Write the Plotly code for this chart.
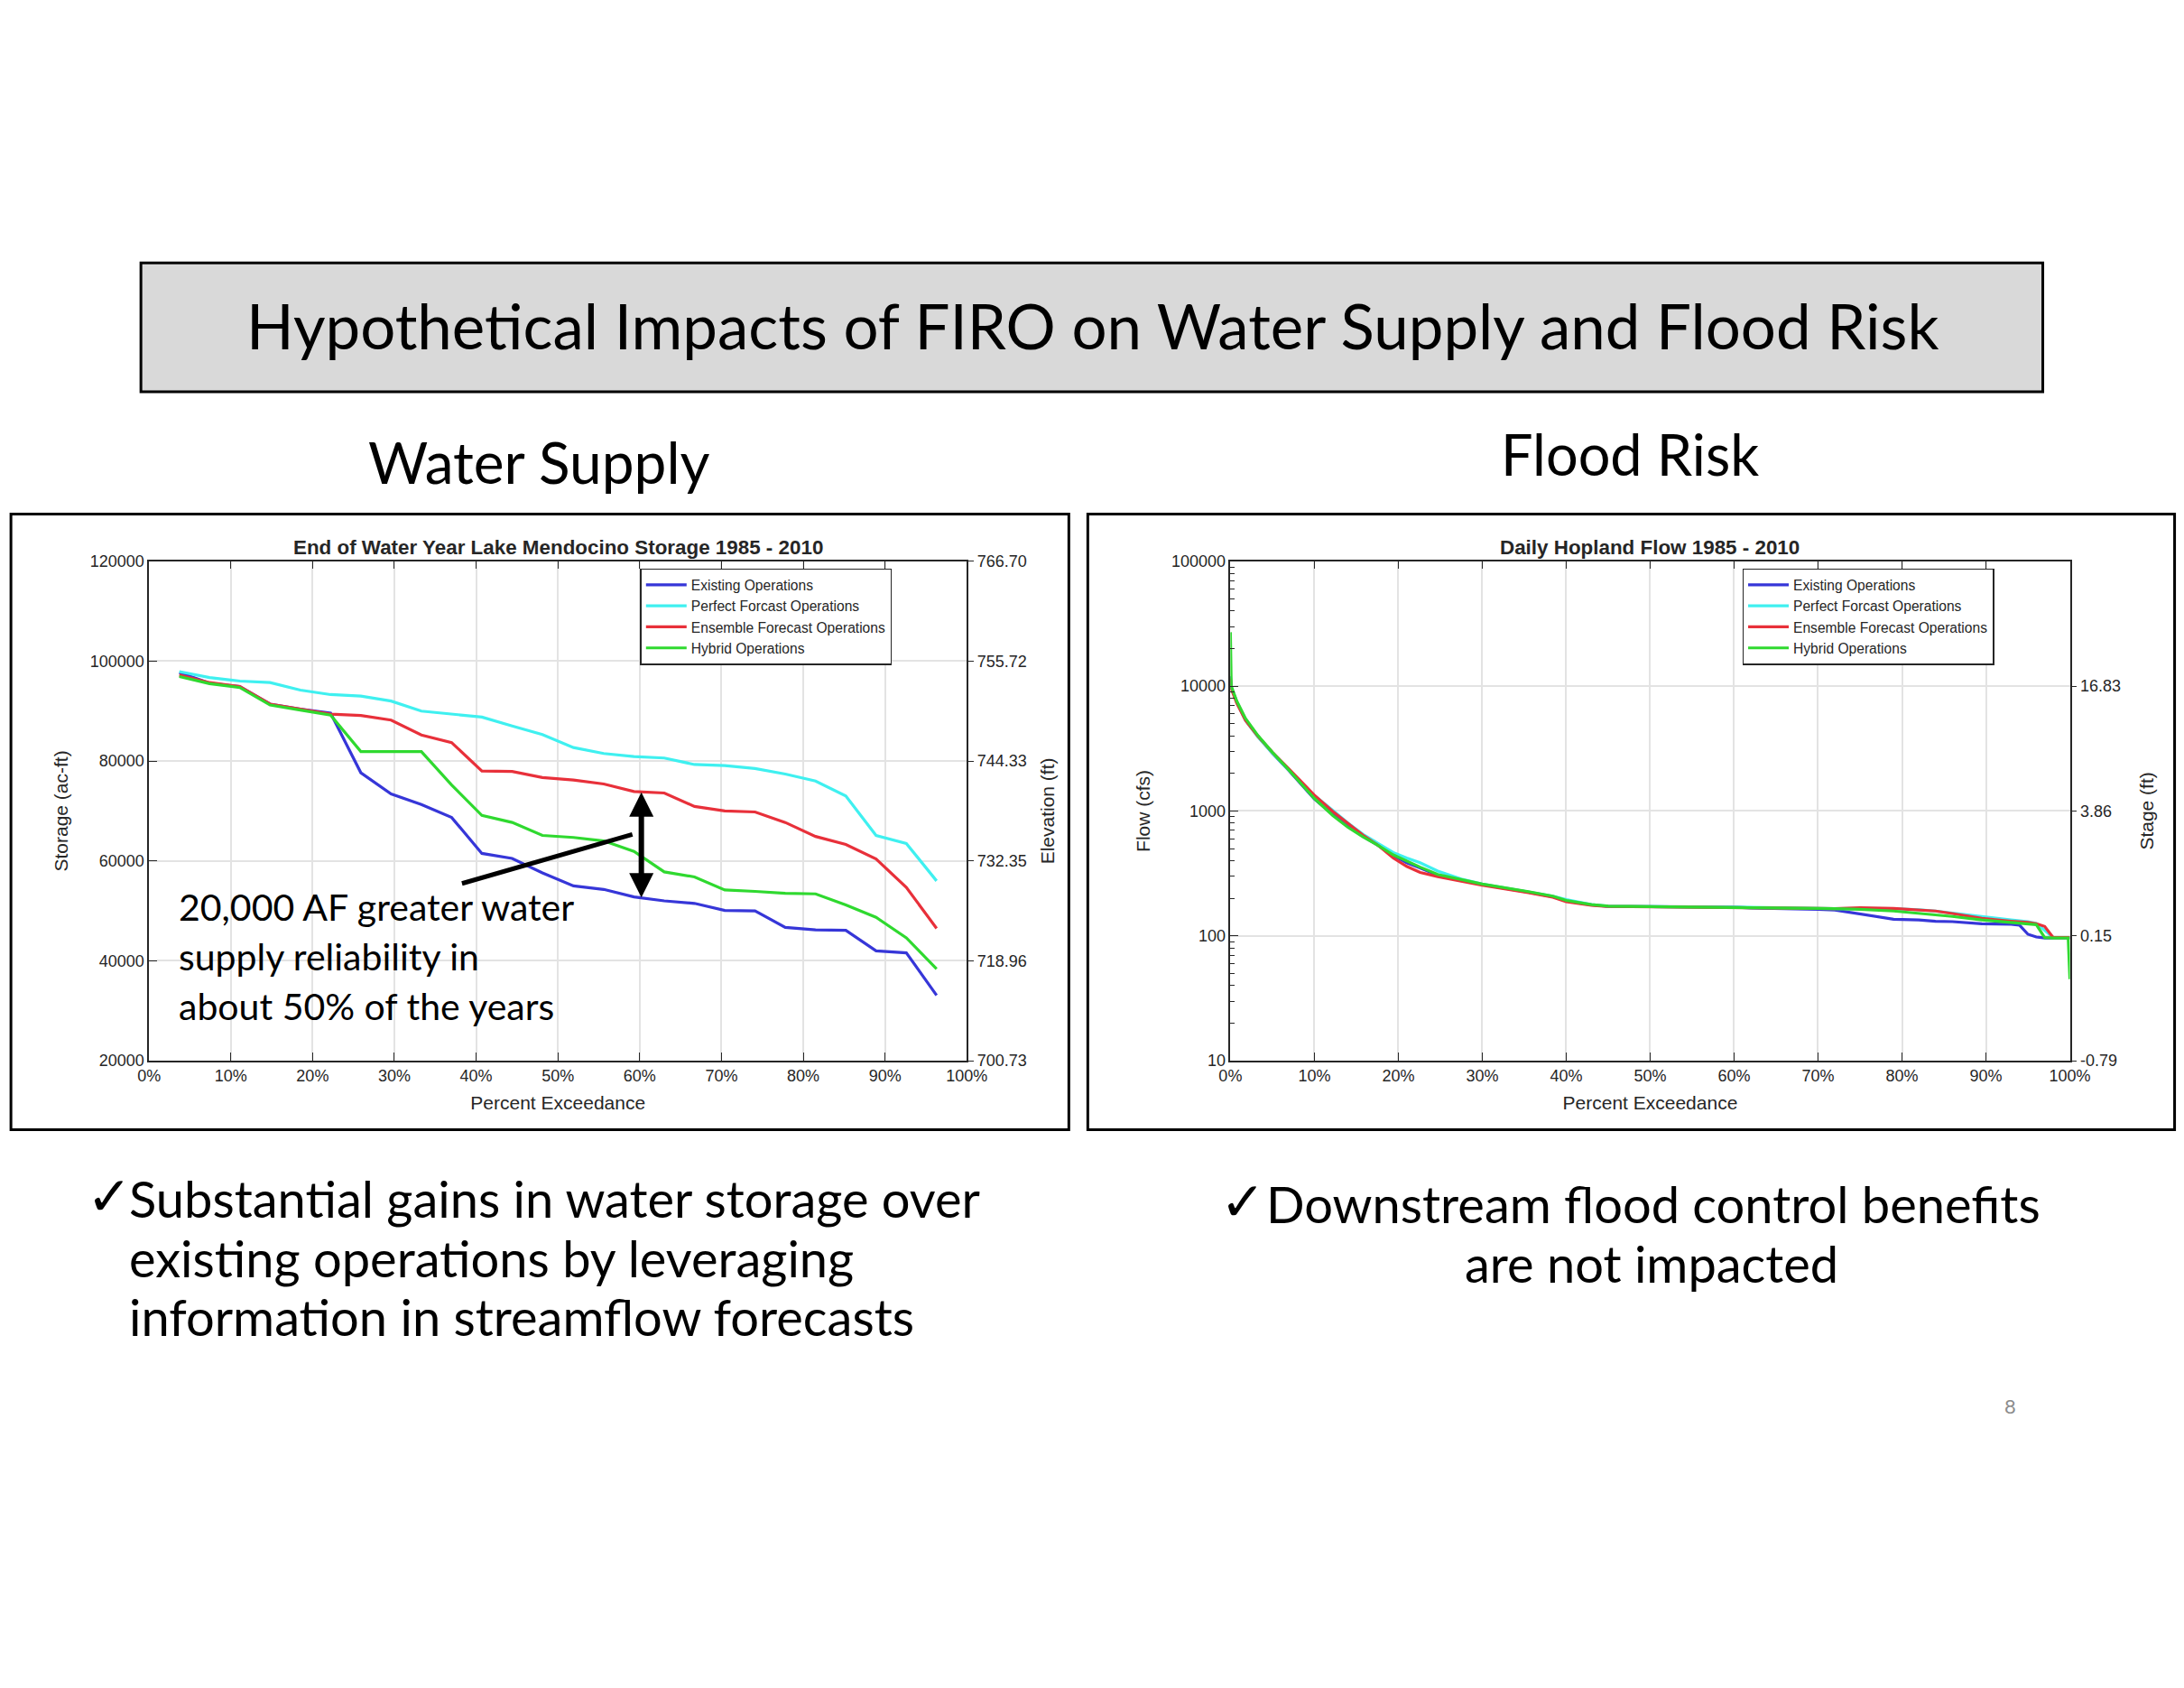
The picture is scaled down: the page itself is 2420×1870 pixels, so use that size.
import plotly.graph_objects as go

# The rendered page comes out slightly shrunk and offset, so they are mapped before use.
SHOT_SCALE, SHOT_OFF, BODY = 0.985, 13, 8
W, H = 2430, 1862

# ---- data: End of Water Year Lake Mendocino Storage 1985 - 2010 ----
storage_pct = [3.7, 7.4, 11.1, 14.8, 18.5, 22.2, 25.9, 29.6, 33.3, 37.0, 40.7, 44.4, 48.1,
               51.9, 55.6, 59.3, 63.0, 66.7, 70.4, 74.1, 77.8, 81.5, 85.2, 88.9, 92.6, 96.3]
storage_existing = [97700, 95600, 94900, 91400, 90400, 89600, 77650, 73400, 71300, 68700, 61500, 60500, 57600,
                    55000, 54300, 52800, 52000, 51500, 50100, 50000, 46700, 46200, 46100, 42000, 41600, 33100]
storage_perfect = [97900, 96700, 96000, 95700, 94200, 93300, 93000, 92000, 90000, 89400, 88800, 87000, 85300,
                   82700, 81500, 80900, 80600, 79300, 79100, 78500, 77400, 76000, 73000, 65100, 63500, 56000]
storage_ensemble = [97200, 95700, 94900, 91400, 90400, 89400, 89100, 88200, 85200, 83700, 78000, 77900, 76700,
                    76200, 75400, 73900, 73600, 70900, 70000, 69800, 67700, 64900, 63300, 60400, 54700, 46500]
storage_hybrid = [96900, 95500, 94700, 91200, 90200, 89200, 81900, 81900, 81900, 75200, 69100, 67700, 65100,
                  64700, 64000, 61900, 57800, 56800, 54200, 53900, 53500, 53400, 51200, 48700, 44600, 38400]
storage_ticks = [20000, 40000, 60000, 80000, 100000, 120000]
elevation_labels = ["700.73", "718.96", "732.35", "744.33", "755.72", "766.70"]

# ---- data: Daily Hopland Flow 1985 - 2010 ----
flow_pct = [0, 0.1, 0.75, 1.8, 3.3, 5, 6.9, 8.6, 10, 12.2, 14, 15.8, 17.6, 19.4, 21, 22.6, 24.7, 27.5, 30,
            35.5, 38.4, 40, 43, 45, 50, 55, 60, 62, 65, 70, 72, 75, 79, 82, 84, 86, 89.5, 93, 94, 95, 96,
            97, 98, 99.3, 99.8, 100]
flow_existing = [12000, 9800, 7500, 5400, 3950, 2900, 2130, 1600, 1250, 940, 760, 625, 530, 440, 385, 350, 305,
                 280, 258, 224, 206, 190, 177, 172, 171, 170, 170, 167, 166, 163, 161, 150, 136, 134, 131, 130,
                 125, 124, 122, 103, 98, 96, 96, 97, 97, 96]
flow_perfect = [11000, 9800, 7400, 5300, 3900, 2900, 2150, 1650, 1330, 1010, 800, 650, 550, 465, 420, 385, 330,
                285, 260, 226, 208, 195, 178, 173, 171, 170, 170, 169, 168, 166, 165, 166, 165, 162, 158, 152,
                142, 134, 132, 130, 126, 110, 97, 97, 97, 97]
flow_ensemble = [11500, 9500, 7300, 5300, 3950, 2950, 2200, 1680, 1340, 990, 790, 640, 530, 420, 360, 322, 298,
                 275, 254, 222, 204, 188, 176, 172, 171, 170, 170, 169, 168, 166, 165, 168, 166, 162, 158, 151,
                 138, 131, 130, 128, 125, 119, 97, 97, 97, 97]
flow_hybrid = [27000, 10000, 7600, 5500, 4000, 2950, 2150, 1600, 1260, 920, 740, 620, 530, 445, 395, 355, 310,
               283, 260, 226, 208, 192, 178, 173, 172, 171, 170, 169, 168, 166, 165, 163, 158, 152, 148, 143,
               134, 128, 127, 125, 123, 97, 96, 96, 96, 45]
flow_ticks = [10, 100, 1000, 10000, 100000]
flow_labels = ["10", "100", "1000", "10000", "100000"]
stage_ticks = [10, 100, 1000, 10000]
stage_labels = ["-0.79", "0.15", "3.86", "16.83"]

series_names = ["Existing Operations", "Perfect Forcast Operations",
                "Ensemble Forecast Operations", "Hybrid Operations"]
colors = ["#3636d8", "#3ff0f0", "#e8303a", "#2fd92f"]

SLIDE_FONT = "Lato, Open Sans, sans-serif"
AX_FONT = "Liberation Sans Narrow, Liberation Sans, Arial, sans-serif"
AX_COL = "#262626"


def px(x):
    return ((x - SHOT_OFF) / SHOT_SCALE - BODY) / W


def py(y):
    return 1 - ((y - SHOT_OFF) / SHOT_SCALE - BODY) / H


fig = go.Figure()

for name, vals, col in zip(series_names,
                           [storage_existing, storage_perfect, storage_ensemble, storage_hybrid], colors):
    fig.add_trace(go.Scatter(x=storage_pct, y=vals, name=name, mode="lines",
                             line=dict(color=col, width=3.2), xaxis="x", yaxis="y", legend="legend"))

for name, vals, col in zip(series_names,
                           [flow_existing, flow_perfect, flow_ensemble, flow_hybrid], colors):
    fig.add_trace(go.Scatter(x=flow_pct, y=vals, name=name, mode="lines",
                             line=dict(color=col, width=3.2), xaxis="x3", yaxis="y3", legend="legend2"))

# invisible copies so the right-hand (elevation / stage) axes get drawn
fig.add_trace(go.Scatter(x=storage_pct, y=storage_existing, mode="lines", opacity=0, showlegend=False,
                         hoverinfo="skip", xaxis="x", yaxis="y2"))
fig.add_trace(go.Scatter(x=flow_pct, y=flow_existing, mode="lines", opacity=0, showlegend=False,
                         hoverinfo="skip", xaxis="x3", yaxis="y4"))

tickfont = dict(family=AX_FONT, size=18, color=AX_COL)
titlefont = dict(family=AX_FONT, size=21, color=AX_COL)
xcommon = dict(range=[0, 100], dtick=10, ticksuffix="%", showgrid=True, gridcolor="#e3e3e3", gridwidth=1.5,
               showline=True, linecolor=AX_COL, linewidth=1.5, mirror="ticks", ticks="inside", ticklen=9,
               tickcolor=AX_COL, tickfont=tickfont, zeroline=False,
               title=dict(text="Percent Exceedance", font=titlefont, standoff=13))
ydomain = [py(1173), py(622)]

minor_vals = [m * 10 ** e for e in range(1, 5) for m in range(2, 10)]

legend_style = dict(yanchor="top", xanchor="right", bgcolor="white", bordercolor=AX_COL, borderwidth=1.5,
                    font=dict(family=AX_FONT, size=15.6, color=AX_COL), tracegroupgap=0, itemwidth=45)

fig.update_layout(
    width=W, height=H, margin=dict(l=0, r=0, t=0, b=0),
    paper_bgcolor="white", plot_bgcolor="white",
    xaxis=dict(domain=[px(165), px(1071)], anchor="y", **xcommon),
    yaxis=dict(domain=ydomain, anchor="x", range=[20000, 120000], tickvals=storage_ticks,
               tickformat=".0f", showgrid=True, gridcolor="#e3e3e3", gridwidth=1.5, zeroline=False,
               showline=True, linecolor=AX_COL, linewidth=1.5, ticks="inside", ticklen=9, tickcolor=AX_COL,
               tickfont=tickfont, title=dict(text="Storage (ac-ft)", font=titlefont, standoff=18)),
    yaxis2=dict(overlaying="y", side="right", anchor="x", range=[20000, 120000], tickvals=storage_ticks,
                ticktext=elevation_labels, showgrid=False, zeroline=False, showline=True, linecolor=AX_COL,
                linewidth=1.5, ticks="outside", ticklen=6, tickcolor=AX_COL, tickfont=tickfont,
                title=dict(text="Elevation (ft)", font=titlefont, standoff=17)),
    xaxis3=dict(domain=[px(1363), px(2293)], anchor="y3", **xcommon),
    yaxis3=dict(domain=ydomain, anchor="x3", type="log", range=[1, 5], tickvals=flow_ticks,
                ticktext=flow_labels, showgrid=True, gridcolor="#e3e3e3", gridwidth=1.5, zeroline=False,
                showline=True, linecolor=AX_COL, linewidth=1.5, ticks="inside", ticklen=9, tickcolor=AX_COL,
                tickfont=tickfont, minor=dict(tickvals=minor_vals, ticks="inside", ticklen=5,
                                              tickcolor=AX_COL, showgrid=False),
                title=dict(text="Flow (cfs)", font=titlefont, standoff=18)),
    yaxis4=dict(overlaying="y3", side="right", anchor="x3", type="log", range=[1, 5], tickvals=stage_ticks,
                ticktext=stage_labels, showgrid=False, zeroline=False, showline=True, linecolor=AX_COL,
                linewidth=1.5, ticks="outside", ticklen=6, tickcolor=AX_COL, tickfont=tickfont,
                title=dict(text="Stage (ft)", font=titlefont, standoff=22)),
    legend=dict(x=px(988), y=py(630), **legend_style),
    legend2=dict(x=px(2209), y=py(630), **legend_style),
    showlegend=True,
)

# slide frame shapes
fig.add_shape(type="rect", xref="paper", yref="paper", x0=px(156), x1=px(2263), y0=py(435), y1=py(293),
              fillcolor="#d9d9d9", line=dict(color="black", width=3), layer="below")
fig.add_shape(type="rect", xref="paper", yref="paper", x0=px(12), x1=px(1184), y0=py(1249), y1=py(570),
              line=dict(color="black", width=3))
fig.add_shape(type="rect", xref="paper", yref="paper", x0=px(1205), x1=px(2409), y0=py(1249), y1=py(570),
              line=dict(color="black", width=3))


def note(text, x, y, size, xanchor="center", font=SLIDE_FONT, color="black", bold=False):
    if bold:
        text = "<b>" + text + "</b>"
    fig.add_annotation(text=text, x=px(x), y=py(y), xref="paper", yref="paper", showarrow=False,
                       xanchor=xanchor, yanchor="middle", font=dict(family=font, size=size, color=color))


note("Hypothetical Impacts of FIRO on Water Supply and Flood Risk", 1210, 362, 69)
note("Water Supply", 597, 512, 64)
note("Flood Risk", 1806, 503, 63)
note("End of Water Year Lake Mendocino Storage 1985 - 2010", 618, 607, 22.4, font=AX_FONT, color=AX_COL,
     bold=True)
note("Daily Hopland Flow 1985 - 2010", 1828, 607, 22.4, font=AX_FONT, color=AX_COL, bold=True)

note("\u2713", 94, 1320, 60, xanchor="left")
note("Substantial gains in water storage over", 141, 1325, 56, xanchor="left")
note("existing operations by leveraging", 141, 1390, 56, xanchor="left")
note("information in streamflow forecasts", 141, 1455, 56, xanchor="left")
note("\u2713", 1350, 1326, 60, xanchor="left")
note("Downstream flood control benefits", 1401, 1331, 56, xanchor="left")
note("are not impacted", 1830, 1396, 56)
note("8", 2227, 1554, 22, color="#8c8c8c")

# left chart call-out
for i, line in enumerate(["20,000 AF greater water", "supply reliability in", "about 50% of the years"]):
    note(line, 196, 1003 + i * 55, 41, xanchor="left")

fig.add_annotation(x=60.2, y=52700, ax=60.2, ay=74000, xref="x", yref="y", axref="x", ayref="y",
                   text="", showarrow=True, arrowhead=2, arrowside="end+start", arrowsize=0.9,
                   arrowwidth=6, arrowcolor="black")
fig.add_annotation(x=59.1, y=65300, ax=38.1, ay=55400, xref="x", yref="y", axref="x", ayref="y",
                   text="", showarrow=True, arrowhead=0, arrowwidth=5, arrowcolor="black")

fig.write_html("out.html")
